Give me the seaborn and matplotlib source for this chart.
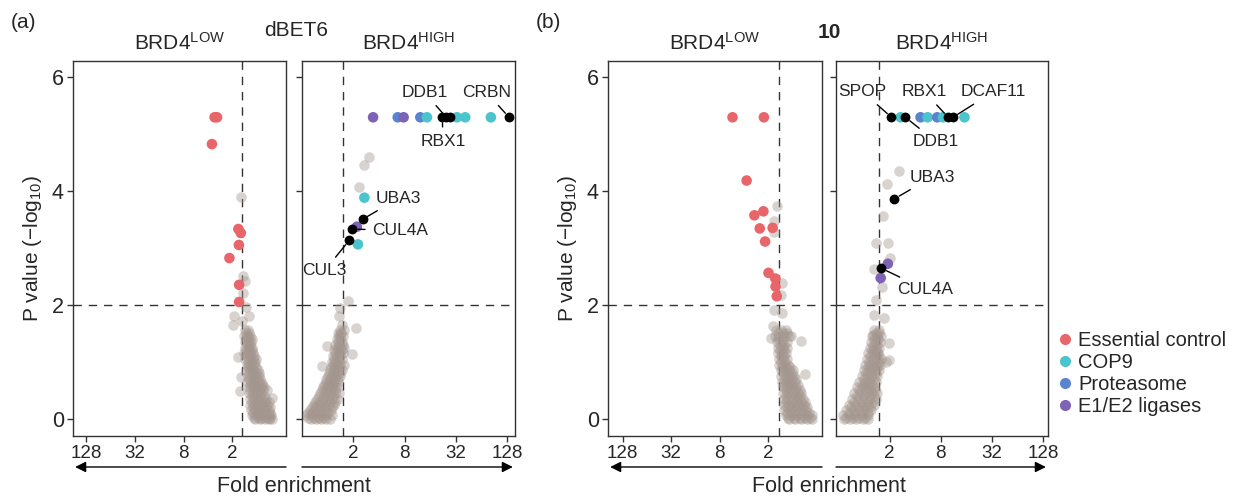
import pandas as pd
import matplotlib
matplotlib.use("Agg")
import matplotlib.pyplot as plt
from matplotlib.lines import Line2D
import seaborn as sns

sns.set_style("white")
plt.rcParams["font.family"] = ["Liberation Sans", "DejaVu Sans"]
plt.rcParams["mathtext.fontset"] = "custom"
plt.rcParams["mathtext.rm"] = "Liberation Sans"
plt.rcParams["mathtext.it"] = "Liberation Sans:italic"
plt.rcParams["mathtext.bf"] = "Liberation Sans:bold"

# x = log2 fold enrichment, y = -log10 P value
groups = ["Essential control", "COP9", "Proteasome", "E1/E2 ligases"]
group_colors = ["#e8666a", "#4cc4ce", "#5a84d0", "#7d62b6"]
fc_ticks = [1, 3, 5, 7]
fc_tick_labels = ["2", "8", "32", "128"]

# background screen genes, rows keyed by -log10 P
a_low_cloud = {
    1.55: [0.45, 0.35], 1.5: [0.42, 0.3], 1.45: [0.5, 0.38, 0.28], 1.4: [0.44, 0.3, 0.2],
    1.35: [0.48, 0.35, 0.22], 1.3: [0.4, 0.27], 1.25: [0.45, 0.32, 0.18],
    1.2: [0.43, 0.3, 0.18], 1.15: [0.5, 0.38, 0.25, 0.12], 1.1: [0.4, 0.25, 0.08],
    1.05: [0.45, 0.3, 0.15, 0.02], 1.0: [0.36, 0.2, 0.05], 0.95: [0.4, 0.25, 0.1],
    0.9: [0.35, 0.2, 0.02], 0.85: [0.42, 0.28, 0.12, -0.05], 0.8: [0.3, 0.15, 0.0, -0.12],
    0.75: [0.35, 0.2, 0.05, -0.1], 0.7: [0.3, 0.12, -0.02, -0.15],
    0.65: [0.38, 0.22, 0.05, -0.12], 0.6: [0.25, 0.1, -0.08, -0.22],
    0.55: [0.3, 0.15, 0.0, -0.18, -0.3], 0.5: [0.25, 0.08, -0.1, -0.28],
    0.45: [0.32, 0.15, -0.02, -0.2], 0.4: [0.2, 0.02, -0.15, -0.32],
    0.35: [0.28, 0.1, -0.08, -0.25, -0.4], 0.3: [0.18, 0.0, -0.18, -0.36, -0.5],
    0.25: [0.25, 0.08, -0.1, -0.28, -0.45], 0.2: [0.15, -0.02, -0.2, -0.4, -0.55],
    0.15: [0.22, 0.05, -0.12, -0.3, -0.5], 0.1: [0.12, -0.05, -0.22, -0.4, -0.58],
    0.06: [0.2, 0.02, -0.15, -0.32, -0.5, -0.62], 0.02: [0.1, -0.1, -0.25, -0.42, -0.58],
    0.0: [0.05, -0.15, -0.35, -0.5, -0.65],
}
a_low_outliers = [(0.63, 3.9), (0.56, 2.5), (0.47, 2.41), (0.53, 2.2), (0.44, 1.97),
                  (0.92, 1.8), (0.95, 1.64), (0.3, 1.8), (0.6, 1.71), (0.77, 1.09),
                  (0.63, 0.74), (0.66, 0.48), (-0.43, 0.51), (-0.66, 0.36), (-0.22, 0.63)]

a_high_cloud = {
    1.55: [0.5, 0.62], 1.5: [0.52, 0.4], 1.45: [0.45, 0.58], 1.4: [0.5, 0.38],
    1.35: [0.4, 0.55], 1.3: [0.45, 0.3, 0.58], 1.25: [0.35, 0.5, 0.62],
    1.2: [0.4, 0.25, 0.55], 1.15: [0.3, 0.45, 0.6], 1.1: [0.35, 0.2, 0.5],
    1.05: [0.25, 0.4, 0.55], 1.0: [0.3, 0.15, 0.45], 0.95: [0.2, 0.35, 0.5, 0.62],
    0.9: [0.28, 0.12, 0.45], 0.85: [0.1, 0.25, 0.4, 0.55], 0.8: [0.2, 0.05, 0.35, 0.5],
    0.75: [0.02, 0.18, 0.32, 0.48], 0.7: [0.1, -0.05, 0.25, 0.4],
    0.65: [-0.08, 0.08, 0.25, 0.42], 0.6: [0.0, -0.15, 0.15, 0.3],
    0.55: [-0.18, 0.0, 0.18, 0.35], 0.5: [-0.05, -0.22, 0.12, 0.3],
    0.45: [-0.28, -0.1, 0.08, 0.28, 0.45], 0.4: [-0.15, -0.32, 0.05, 0.22],
    0.35: [-0.4, -0.2, 0.0, 0.2, 0.38], 0.3: [-0.3, -0.48, -0.1, 0.1, 0.3],
    0.25: [-0.55, -0.35, -0.15, 0.05, 0.25], 0.2: [-0.45, -0.62, -0.25, -0.05, 0.15],
    0.15: [-0.7, -0.5, -0.3, -0.1, 0.12], 0.1: [-0.6, -0.78, -0.4, -0.2, 0.0],
    0.06: [-0.85, -0.65, -0.45, -0.25, -0.05, 0.15], 0.02: [-0.75, -0.55, -0.35, -0.15],
    0.0: [-0.65, -0.45, -0.25, -0.05, 0.1],
}
a_high_outliers = [(1.61, 4.6), (1.43, 4.45), (1.22, 4.07), (0.79, 2.06), (0.49, 1.94),
                   (0.43, 1.8), (1.12, 1.59), (0.56, 1.65), (-0.02, 1.27), (0.95, 1.14),
                   (-0.22, 0.92), (0.49, 1.49)]

b_low_cloud = {
    1.55: [0.7, 0.5, 0.3], 1.5: [0.62, 0.42, 0.22], 1.45: [0.75, 0.55, 0.35, 0.15],
    1.4: [0.6, 0.4], 1.35: [0.65, 0.45, 0.25], 1.3: [0.52, 0.35],
    1.25: [0.6, 0.42, 0.25], 1.2: [0.52, 0.35], 1.15: [0.6, 0.45, 0.3], 1.1: [0.5, 0.35],
    1.05: [0.58, 0.42, 0.25], 1.0: [0.5, 0.32], 0.95: [0.55, 0.38, 0.2],
    0.9: [0.45, 0.28, 0.1], 0.85: [0.5, 0.32, 0.15, 0.0], 0.8: [0.4, 0.22, 0.05],
    0.75: [0.48, 0.3, 0.12, -0.05], 0.7: [0.38, 0.2, 0.02, -0.12],
    0.65: [0.45, 0.28, 0.1, -0.08], 0.6: [0.35, 0.15, -0.02, -0.2],
    0.55: [0.42, 0.25, 0.05, -0.15], 0.5: [0.3, 0.1, -0.1, -0.28],
    0.45: [0.4, 0.2, 0.0, -0.2, -0.35], 0.4: [0.3, 0.08, -0.12, -0.3],
    0.35: [0.38, 0.18, -0.02, -0.22, -0.4], 0.3: [0.28, 0.05, -0.15, -0.35, -0.5],
    0.25: [0.35, 0.15, -0.05, -0.25, -0.45], 0.2: [0.25, 0.02, -0.18, -0.4, -0.6],
    0.15: [0.35, 0.12, -0.1, -0.32, -0.55], 0.1: [0.22, 0.0, -0.22, -0.45, -0.68],
    0.06: [0.3, 0.08, -0.15, -0.38, -0.6, -0.78], 0.02: [0.2, -0.05, -0.3, -0.5, -0.7],
    0.0: [0.15, -0.1, -0.35, -0.6, -0.8],
}
b_low_outliers = [(0.64, 3.74), (0.76, 3.47), (0.78, 3.27), (0.46, 2.38), (0.49, 2.18),
                  (0.76, 1.91), (0.43, 1.85), (0.8, 1.62), (0.09, 1.46), (-0.34, 1.37),
                  (-0.5, 0.79), (0.88, 1.42)]

b_high_cloud = {
    1.55: [0.4, 0.6], 1.5: [0.45, 0.58], 1.45: [0.3, 0.5, 0.65], 1.4: [0.4, 0.55],
    1.35: [0.28, 0.45, 0.62], 1.3: [0.35, 0.52], 1.25: [0.22, 0.4, 0.58],
    1.2: [0.3, 0.48], 1.15: [0.15, 0.35, 0.55], 1.1: [0.22, 0.42, 0.6],
    1.05: [0.1, 0.3, 0.5, 0.65], 1.0: [0.2, 0.4, 0.58], 0.95: [0.05, 0.25, 0.45, 0.62],
    0.9: [0.15, 0.35, 0.52], 0.85: [-0.02, 0.18, 0.38, 0.58], 0.8: [0.08, 0.28, 0.45],
    0.75: [-0.1, 0.1, 0.3, 0.5], 0.7: [0.0, 0.2, 0.4], 0.65: [-0.18, 0.02, 0.22, 0.45],
    0.6: [-0.08, 0.12, 0.32], 0.55: [-0.28, -0.05, 0.15, 0.4],
    0.5: [-0.2, 0.02, 0.25, 0.42], 0.45: [-0.38, -0.15, 0.08, 0.32, 0.5],
    0.4: [-0.28, -0.05, 0.18, 0.38], 0.35: [-0.48, -0.25, 0.0, 0.25, 0.45],
    0.3: [-0.38, -0.12, 0.12, 0.35], 0.25: [-0.6, -0.35, -0.1, 0.15, 0.38],
    0.2: [-0.5, -0.25, 0.0, 0.22], 0.15: [-0.7, -0.45, -0.2, 0.05, 0.28],
    0.1: [-0.6, -0.35, -0.1, 0.15], 0.06: [-0.82, -0.58, -0.35, -0.1, 0.15],
    0.02: [-0.7, -0.45, -0.2, 0.05], 0.0: [-0.78, -0.55, -0.3, -0.05, 0.15],
}
b_high_outliers = [(1.35, 4.35), (0.88, 4.12), (0.75, 3.55), (0.45, 3.08), (0.93, 3.09),
                   (1.0, 2.82), (0.39, 2.63), (0.72, 2.32), (0.45, 2.08), (0.39, 1.82),
                   (0.78, 1.77), (0.33, 1.47), (0.87, 0.99), (0.52, 1.18), (0.96, 1.33),
                   (0.96, 1.03)]

# highlighted genes: (name, log2 fold, -log10 P, group); "hit" = black
a_low_hits = [("", 1.72, 5.29, "Essential control"), ("", 1.62, 5.29, "Essential control"),
              ("", 1.83, 4.82, "Essential control"), ("", 0.74, 3.33, "Essential control"),
              ("", 0.64, 3.26, "Essential control"), ("", 0.72, 3.05, "Essential control"),
              ("", 1.11, 2.82, "Essential control"), ("", 0.71, 2.35, "Essential control"),
              ("", 0.71, 2.05, "Essential control")]
a_high_hits = [("", 1.77, 5.29, "E1/E2 ligases"), ("", 2.73, 5.29, "Proteasome"),
               ("", 2.96, 5.29, "E1/E2 ligases"), ("", 3.61, 5.29, "Proteasome"),
               ("", 3.87, 5.29, "COP9"), ("", 5.04, 5.29, "COP9"), ("", 5.36, 5.29, "COP9"),
               ("", 6.36, 5.29, "COP9"), ("", 1.43, 3.88, "COP9"),
               ("", 1.14, 3.37, "E1/E2 ligases"), ("", 1.18, 3.06, "COP9"),
               ("", 4.78, 5.29, "hit"), ("RBX1", 4.47, 5.29, "hit"), ("DDB1", 4.62, 5.29, "hit"),
               ("CRBN", 7.07, 5.29, "hit"), ("UBA3", 1.36, 3.5, "hit"),
               ("CUL4A", 0.96, 3.33, "hit"), ("CUL3", 0.84, 3.13, "hit")]
b_low_hits = [("", 2.48, 5.29, "Essential control"), ("", 1.19, 5.29, "Essential control"),
              ("", 1.9, 4.18, "Essential control"), ("", 1.58, 3.57, "Essential control"),
              ("", 1.21, 3.64, "Essential control"), ("", 1.36, 3.34, "Essential control"),
              ("", 0.83, 3.35, "Essential control"), ("", 1.14, 3.11, "Essential control"),
              ("", 1.0, 2.56, "Essential control"), ("", 0.72, 2.46, "Essential control"),
              ("", 0.71, 2.32, "Essential control"), ("", 0.66, 2.15, "Essential control")]
b_high_hits = [("", 1.43, 5.29, "COP9"), ("", 2.21, 5.29, "Proteasome"), ("", 2.49, 5.29, "COP9"),
               ("", 2.86, 5.29, "Proteasome"), ("", 3.09, 5.29, "COP9"), ("", 3.93, 5.29, "COP9"),
               ("", 0.93, 2.72, "E1/E2 ligases"), ("", 0.65, 2.47, "E1/E2 ligases"),
               ("SPOP", 1.07, 5.29, "hit"), ("DDB1", 1.62, 5.29, "hit"),
               ("RBX1", 3.29, 5.29, "hit"), ("DCAF11", 3.48, 5.29, "hit"),
               ("UBA3", 1.19, 3.86, "hit"), ("CUL4A", 0.68, 2.64, "hit")]

# label text centres (log2 fold, -log10 P)
a_high_label_pos = {"DDB1": (3.77, 5.73), "CRBN": (6.18, 5.73), "RBX1": (4.49, 4.87),
                    "UBA3": (2.77, 3.87), "CUL4A": (2.81, 3.3), "CUL3": (-0.12, 2.6)}
b_high_label_pos = {"SPOP": (-0.06, 5.74), "RBX1": (2.36, 5.74), "DCAF11": (5.07, 5.74),
                    "DDB1": (2.79, 4.87), "UBA3": (2.66, 4.24), "CUL4A": (2.4, 2.27)}

palette = dict(zip(groups, group_colors))
grey = "#a3968e"
spine_col = "#333333"


def bg_frame(cloud, outliers):
    rows = [(x, y) for y, xs in cloud.items() for x in xs] + list(outliers)
    return pd.DataFrame(rows, columns=["fc", "p"])


def draw_panel(ax, cloud, outliers, hits, label_pos, xlim, show_y):
    bg = bg_frame(cloud, outliers)
    hl = pd.DataFrame(hits, columns=["name", "fc", "p", "group"])
    sns.scatterplot(data=bg, x="fc", y="p", color=grey, alpha=0.42, s=58,
                    linewidth=0, ax=ax, zorder=2)
    col = hl[hl["group"] != "hit"]
    if len(col):
        sns.scatterplot(data=col, x="fc", y="p", hue="group", palette=palette,
                        s=58, linewidth=0, legend=False, ax=ax, zorder=3)
    blk = hl[hl["group"] == "hit"]
    if len(blk):
        sns.scatterplot(data=blk, x="fc", y="p", color="black", s=50,
                        linewidth=0, legend=False, ax=ax, zorder=4)
    for _, r in hl[hl["name"] != ""].iterrows():
        ax.annotate(r["name"], xy=(r["fc"], r["p"]), xytext=label_pos[r["name"]],
                    ha="center", va="center", fontsize=12.5, zorder=5,
                    arrowprops=dict(arrowstyle="-", lw=1, color="black",
                                    shrinkA=2.5, shrinkB=4))
    ax.axvline(0.585, color="#333333", lw=1, ls=(0, (6, 5)), zorder=1)
    ax.axhline(2, color="#333333", lw=1, ls=(0, (6, 5)), zorder=1)
    ax.set_xlim(*xlim)
    ax.set_ylim(-0.3, 6.28)
    ax.set_xticks(fc_ticks)
    ax.set_xticklabels(fc_tick_labels, fontsize=13.5)
    ax.set_yticks([0, 2, 4, 6])
    if show_y:
        ax.set_yticklabels(["0", "2", "4", "6"], fontsize=15.5)
        ax.set_ylabel("P value (\u2212log$_{10}$)", fontsize=15, labelpad=6)
    else:
        ax.set_yticklabels([])
        ax.set_ylabel("")
    ax.set_xlabel("")
    ax.tick_params(axis="both", direction="out", length=4.5, width=1,
                   color=spine_col, pad=2, left=True, bottom=True)
    for s in ax.spines.values():
        s.set_color(spine_col)
        s.set_linewidth(1)
        s.set_visible(True)


fig = plt.figure(figsize=(12.38, 5.01), dpi=100)
bottom, height = 0.130, 0.7485
ax_al = fig.add_axes([73 / 1238, bottom, 213 / 1238, height])
ax_ah = fig.add_axes([302 / 1238, bottom, 213 / 1238, height])
ax_bl = fig.add_axes([608 / 1238, bottom, 214 / 1238, height])
ax_bh = fig.add_axes([836 / 1238, bottom, 212 / 1238, height])

draw_panel(ax_al, a_low_cloud, a_low_outliers, a_low_hits, {}, (7.55, -1.22), True)
draw_panel(ax_ah, a_high_cloud, a_high_outliers, a_high_hits, a_high_label_pos, (-1.0, 7.3), False)
draw_panel(ax_bl, b_low_cloud, b_low_outliers, b_low_hits, {}, (7.6, -1.2), True)
draw_panel(ax_bh, b_high_cloud, b_high_outliers, b_high_hits, b_high_label_pos, (-1.1, 7.2), False)

for ax, title in [(ax_al, "LOW"), (ax_ah, "HIGH"), (ax_bl, "LOW"), (ax_bh, "HIGH")]:
    ax.text(0.5, 1.018, "BRD4$^{\\mathrm{" + title + "}}$", transform=ax.transAxes,
            ha="center", va="bottom", fontsize=15)

# direction arrows under each pair
for ax, left in [(ax_al, True), (ax_ah, False), (ax_bl, True), (ax_bh, False)]:
    start, end = (1.0, 0.01) if left else (0.0, 0.99)
    ax.annotate("", xy=(end, -0.083), xytext=(start, -0.083), xycoords="axes fraction",
                arrowprops=dict(arrowstyle="-|>", lw=1, color="black",
                                mutation_scale=16, shrinkA=0, shrinkB=0),
                annotation_clip=False)

fig.text(294 / 1238, 1 - 487 / 501, "Fold enrichment", ha="center", va="center", fontsize=15.5)
fig.text(829 / 1238, 1 - 487 / 501, "Fold enrichment", ha="center", va="center", fontsize=15.5)
fig.text(296 / 1238, 1 - 30 / 501, "dBET6", ha="center", va="center", fontsize=15)
fig.text(829 / 1238, 1 - 32 / 501, "10", ha="center", va="center", fontsize=15, fontweight="bold")
fig.text(23 / 1238, 1 - 23 / 501, "(a)", ha="center", va="center", fontsize=15)
fig.text(548 / 1238, 1 - 23 / 501, "(b)", ha="center", va="center", fontsize=15)

handles = [Line2D([0], [0], marker="o", ls="", markersize=8, markeredgewidth=0,
                  markerfacecolor=c) for c in group_colors]
fig.legend(handles, groups, loc="upper left", bbox_to_anchor=(1059 / 1238, 1 - 331 / 501),
           frameon=False, fontsize=14.5, handlelength=0.6, handletextpad=0.35,
           labelspacing=0.15, borderpad=0, borderaxespad=0)

fig.savefig("out.png", dpi=100)
